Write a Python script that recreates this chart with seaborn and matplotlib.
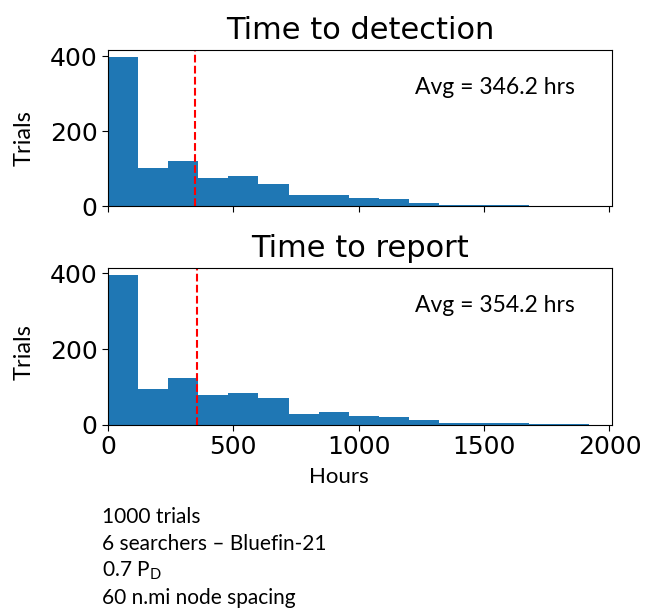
import numpy as np
import pandas as pd
import matplotlib
matplotlib.use("Agg")
import matplotlib.pyplot as plt
import seaborn as sns

# ---- data ----
bin_edges = [0, 120, 240, 360, 480, 600, 720, 840, 960, 1080, 1200, 1320, 1440, 1560, 1680, 1800, 1920]
detect_counts = [397, 102, 120, 77, 80, 60, 30, 30, 23, 19, 10, 4, 4, 4, 1, 1]
report_counts = [394, 94, 124, 79, 85, 70, 29, 34, 25, 22, 12, 6, 4, 4, 3, 2]
detect_avg = 346.2
report_avg = 354.2
titles = ["Time to detection", "Time to report"]
ylabel = "Trials"
xlabel = "Hours"
yticks = [0, 200, 400]
xticks = [0, 500, 1000, 1500, 2000]
notes = ["1000 trials", "6 searchers \u2013 Bluefin-21", "0.7 P$_{\\mathrm{D}}$", "60 n.mi node spacing"]

plt.rcParams["mathtext.fontset"] = "custom"
plt.rcParams["mathtext.rm"] = "Lato"
plt.rcParams["mathtext.it"] = "Lato:italic"

centers = [(a + b) / 2 for a, b in zip(bin_edges[:-1], bin_edges[1:])]

fig = plt.figure(figsize=(6.46, 6.11), dpi=100)
W, H = 646, 611
def rect(l, t, r, b):
    return [l / W, 1 - b / H, (r - l) / W, (b - t) / H]

ax1 = fig.add_axes(rect(108, 50, 612, 206.5))
ax2 = fig.add_axes(rect(108, 268, 612, 425))

side = "Lato"
for ax, counts, avg, title, ly in [(ax1, detect_counts, detect_avg, titles[0], 0.44),
                                   (ax2, report_counts, report_avg, titles[1], 0.465)]:
    df = pd.DataFrame({"hours": centers, "n": counts})
    sns.histplot(data=df, x="hours", weights="n", bins=bin_edges, ax=ax,
                 color="#1f77b4", alpha=1, edgecolor="none", linewidth=0)
    ax.axvline(avg, color="red", linestyle="--", linewidth=1.5)
    ax.set_xlim(0, 2010)
    ax.set_xticks(xticks)
    ax.set_yticks(yticks)
    ax.tick_params(labelsize=18, length=4)
    ax.set_title(title, fontsize=22, pad=8)
    ax.set_ylabel(ylabel, fontsize=17, family=side, labelpad=11, y=ly)
    ax.set_xlabel("")
    ax.text(0.609, 0.72, f"Avg = {avg:.1f} hrs", transform=ax.transAxes,
            fontsize=16.5, family=side, va="baseline", ha="left")

ax1.set_xticklabels([])
fig.text(339 / W, 1 - 483 / H, xlabel, fontsize=16, family=side, ha="center", va="baseline")

for i, line in enumerate(notes):
    fig.text(102 / W, 1 - (523 + 27 * i) / H, line, fontsize=15, family=side,
             ha="left", va="baseline")

fig.savefig("out.png", dpi=100)
